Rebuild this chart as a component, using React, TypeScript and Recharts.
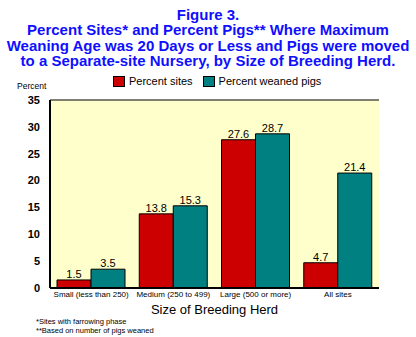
import { BarChart, Bar, XAxis, YAxis, CartesianGrid, LabelList } from "recharts";

const categories = ["Small (less than 250)", "Medium (250 to 499)", "Large (500 or more)", "All sites"];
const percentSites = [1.5, 13.8, 27.6, 4.7];
const percentWeanedPigs = [3.5, 15.3, 28.7, 21.4];
const yTicks = [0, 5, 10, 15, 20, 25, 30, 35];

const data = categories.map((name, i) => ({
  name,
  sites: percentSites[i],
  pigs: percentWeanedPigs[i],
}));

const FONT = "Arial, 'Liberation Sans', Helvetica, sans-serif";
const RED = "#cc0000";
const TEAL = "#008080";
const BLUE = "#0f0fff";

export default function App() {
  return (
    <div style={{ position: "absolute", left: 0, top: 0, width: 416, height: 337, background: "#fff", fontFamily: FONT }}>
      <div
        style={{
          position: "absolute",
          left: 0,
          top: 7,
          width: 416,
          textAlign: "center",
          color: BLUE,
          fontWeight: "bold",
          fontSize: 15,
          lineHeight: "15.3px",
        }}
      >
        Figure 3.
        <br />
        Percent Sites* and Percent Pigs** Where Maximum
        <br />
        Weaning Age was 20 Days or Less and Pigs were moved
        <br />
        to a Separate-site Nursery, by Size of Breeding Herd.
      </div>

      <div style={{ position: "absolute", left: 113, top: 75, display: "flex", alignItems: "center", fontSize: 11, color: "#000" }}>
        <span style={{ display: "inline-block", width: 10, height: 9, background: RED, border: "1px solid #000", marginRight: 4 }} />
        <span style={{ marginRight: 10 }}>Percent sites</span>
        <span style={{ display: "inline-block", width: 10, height: 9, background: TEAL, border: "1px solid #000", marginRight: 4 }} />
        <span>Percent weaned pigs</span>
      </div>

      <div style={{ position: "absolute", left: 17, top: 81, fontSize: 8.5 }}>Percent</div>

      <BarChart
        width={416}
        height={337}
        data={data}
        margin={{ top: 100, right: 37, bottom: 0, left: 0 }}
        barCategoryGap={7}
        barGap={0}
        style={{ position: "absolute", left: 0, top: 0 }}
      >
        <CartesianGrid fill="#ffffcc" vertical={false} stroke="#000" strokeWidth={1} />
        <XAxis
          dataKey="name"
          height={49}
          tickLine={false}
          axisLine={{ stroke: "#000", strokeWidth: 2 }}
          tick={{ fontSize: 8, fill: "#000", fontFamily: FONT, dy: -3 }}
          tickMargin={0}
          interval={0}
          label={{ value: "Size of Breeding Herd", position: "insideBottom", offset: 23, fontSize: 13, fill: "#000", fontFamily: FONT }}
        />
        <YAxis
          yAxisId="left"
          domain={[0, 35]}
          ticks={yTicks}
          width={50}
          tickLine={false}
          axisLine={{ stroke: "#000", strokeWidth: 2 }}
          tick={{ fontSize: 11, fontWeight: "bold", fill: "#000", fontFamily: FONT }}
          tickMargin={4}
        />
        <YAxis
          yAxisId="right"
          orientation="right"
          domain={[0, 35]}
          ticks={yTicks}
          width={0}
          tick={false}
          tickLine={false}
          axisLine={{ stroke: "#000", strokeWidth: 1 }}
        />
        <Bar yAxisId="left" dataKey="sites" fill={RED} stroke="#000" strokeWidth={1} isAnimationActive={false}>
          <LabelList dataKey="sites" position="top" offset={2} style={{ fontSize: 11, fill: "#000", fontFamily: FONT }} />
        </Bar>
        <Bar yAxisId="left" dataKey="pigs" fill={TEAL} stroke="#000" strokeWidth={1} isAnimationActive={false}>
          <LabelList dataKey="pigs" position="top" offset={2} style={{ fontSize: 11, fill: "#000", fontFamily: FONT }} />
        </Bar>
      </BarChart>

      <div style={{ position: "absolute", left: 36, top: 317, fontSize: 7.5, lineHeight: "9px", color: "#000" }}>
        *Sites with farrowing phase
        <br />
        **Based on number of pigs weaned
      </div>
    </div>
  );
}
